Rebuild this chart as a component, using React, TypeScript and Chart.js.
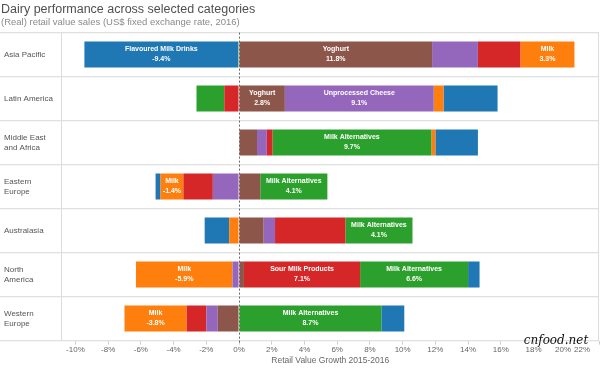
import React, { useEffect, useRef } from 'react';
import { Chart, registerables } from 'chart.js';

Chart.register(...registerables);

// ---------- data ----------
const regions: (string | string[])[] = [
  'Asia Pacific',
  'Latin America',
  ['Middle East', 'and Africa'],
  ['Eastern', 'Europe'],
  'Australasia',
  ['North', 'America'],
  ['Western', 'Europe'],
];

const seriesNames = [
  'Yoghurt',
  'Unprocessed Cheese',
  'Sour Milk Products',
  'Milk Alternatives',
  'Milk',
  'Flavoured Milk Drinks',
];

const yoghurt = [11.8, 2.8, 1.1, 1.3, 1.5, 0.3, -1.3];
const unprocessedCheese = [2.8, 9.1, 0.6, -1.6, 0.7, -0.4, -0.7];
const sourMilkProducts = [2.6, -0.9, 0.35, -1.8, 4.3, 7.1, -1.2];
const milkAlternatives = [-0.05, -1.7, 9.7, 4.1, 4.1, 6.6, 8.7];
const milk = [3.3, 0.6, 0.25, -1.4, -0.6, -5.9, -3.8];
const flavouredMilkDrinks = [-9.4, 3.3, 2.6, -0.3, -1.5, 0.7, 1.4];

// which segments carry a value label (1 = labelled)
const yoghurtLabels = [1, 1, 0, 0, 0, 0, 0];
const cheeseLabels = [0, 1, 0, 0, 0, 0, 0];
const sourLabels = [0, 0, 0, 0, 0, 1, 0];
const altLabels = [0, 0, 1, 1, 1, 1, 1];
const milkLabels = [1, 0, 0, 1, 0, 1, 1];
const flavouredLabels = [1, 0, 0, 0, 0, 0, 0];

const xTicks = [-10, -8, -6, -4, -2, 0, 2, 4, 6, 8, 10, 12, 14, 16, 18, 20, 22];

const titleText = 'Dairy performance across selected categories';
const subtitleText = '(Real) retail value sales (US$ fixed exchange rate, 2016)';
const xAxisTitle = 'Retail Value Growth 2015-2016';
const watermark = 'cnfood.net';

// ---------- styles ----------
const colors = ['#8c564b', '#9467bd', '#d62728', '#2ca02c', '#ff7f0e', '#1f77b4'];
const seriesValues = [yoghurt, unprocessedCheese, sourMilkProducts, milkAlternatives, milk, flavouredMilkDrinks];
const seriesLabelFlags = [yoghurtLabels, cheeseLabels, sourLabels, altLabels, milkLabels, flavouredLabels];

const FONT = '"Liberation Sans", Arial, sans-serif';

const decorPlugin = {
  id: 'decor',
  beforeDatasetsDraw(chart: any) {
    const { ctx, chartArea } = chart;
    const xs = chart.scales.x;
    const x0 = Math.round(xs.getPixelForValue(0)) + 0.5;
    ctx.save();
    ctx.strokeStyle = '#666';
    ctx.lineWidth = 1;
    ctx.setLineDash([2, 2]);
    ctx.beginPath();
    ctx.moveTo(x0, chartArea.top);
    ctx.lineTo(x0, chartArea.bottom + 4);
    ctx.stroke();
    ctx.restore();
  },
  afterDatasetsDraw(chart: any) {
    const { ctx } = chart;
    ctx.save();
    ctx.fillStyle = '#ffffff';
    ctx.font = `bold 7px ${FONT}`;
    ctx.textAlign = 'center';
    ctx.textBaseline = 'middle';
    chart.data.datasets.forEach((ds: any, di: number) => {
      const meta = chart.getDatasetMeta(di);
      const flags = seriesLabelFlags[di];
      meta.data.forEach((el: any, i: number) => {
        if (!flags[i]) return;
        const p = el.getProps(['x', 'y', 'base'], true);
        const cx = (p.x + p.base) / 2;
        const v = ds.data[i] as number;
        ctx.fillText(ds.label, cx, p.y - 6);
        ctx.fillText(v.toFixed(1) + '%', cx, p.y + 4);
      });
    });
    ctx.restore();
  },
  afterDraw(chart: any) {
    const { ctx, chartArea } = chart;
    const xs = chart.scales.x;
    ctx.save();
    // right border
    ctx.strokeStyle = '#dcdcdc';
    ctx.lineWidth = 1;
    ctx.beginPath();
    const rx = Math.round(chartArea.right) - 0.5;
    ctx.moveTo(rx, chartArea.top);
    ctx.lineTo(rx, chartArea.bottom);
    ctx.stroke();

    // title + subtitle
    ctx.textAlign = 'left';
    ctx.textBaseline = 'middle';
    ctx.fillStyle = '#4f4f4f';
    ctx.font = `12.5px ${FONT}`;
    ctx.fillText(titleText, 1, 10);
    ctx.fillStyle = '#8a8a8a';
    ctx.font = `9.5px ${FONT}`;
    ctx.fillText(subtitleText, 1, 22);

    // x tick labels (pushed inward near the right edge)
    ctx.font = `8px ${FONT}`;
    ctx.fillStyle = '#666666';
    ctx.textAlign = 'center';
    const items = xTicks.map((v) => {
      const text = v + '%';
      return { text, x: xs.getPixelForValue(v), w: ctx.measureText(text).width, cx: 0 };
    });
    let limit = chart.width - 10;
    for (let i = items.length - 1; i >= 0; i--) {
      const it = items[i];
      it.cx = Math.min(it.x, limit - it.w / 2);
      limit = it.cx - it.w / 2 - 3;
    }
    items.forEach((it) => ctx.fillText(it.text, it.cx, chartArea.bottom + 9));

    // watermark
    ctx.fillStyle = '#111';
    ctx.font = `italic 12px "DejaVu Serif", serif`;
    ctx.textAlign = 'center';
    ctx.fillText(watermark, 556, 341);
    ctx.restore();
  },
};

export default function App() {
  const ref = useRef<HTMLCanvasElement>(null);

  useEffect(() => {
    document.body.style.margin = '0';
    const canvas = ref.current;
    if (!canvas) return;
    const chart = new Chart(canvas, {
      type: 'bar',
      data: {
        labels: regions,
        datasets: seriesNames.map((name, i) => ({
          label: name,
          data: seriesValues[i],
          backgroundColor: colors[i],
          borderWidth: 0,
          categoryPercentage: 1,
          barPercentage: 0.59,
        })),
      },
      options: {
        indexAxis: 'y',
        responsive: false,
        animation: false,
        layout: { padding: { left: 4, right: 1, top: 32.6, bottom: 0 } },
        plugins: {
          legend: { display: false },
          tooltip: { enabled: false },
          title: { display: false },
        },
        scales: {
          x: {
            type: 'linear',
            stacked: true,
            min: -10.85,
            max: 22,
            afterBuildTicks: (scale: any) => {
              scale.ticks = xTicks.map((v) => ({ value: v }));
            },
            afterFit: (scale: any) => {
              scale.height = 28.4;
              scale.paddingLeft = 0;
              scale.paddingRight = 0;
            },
            ticks: { display: false },
            grid: {
              drawOnChartArea: false,
              drawTicks: true,
              tickLength: 4,
              color: '#cfcfcf',
            },
            border: { display: false },
            title: {
              display: true,
              text: xAxisTitle,
              color: '#666666',
              font: { family: FONT, size: 8.5 },
              padding: { top: 0, bottom: 3 },
            },
          },
          y: {
            type: 'category',
            stacked: true,
            afterFit: (scale: any) => {
              scale.width = 57.5;
            },
            ticks: {
              crossAlign: 'far',
              color: '#555555',
              font: { family: FONT, size: 8 },
              padding: 0,
            },
            grid: {
              offset: true,
              color: '#e0e0e0',
              lineWidth: 1.2,
              drawTicks: true,
              tickLength: 62,
            },
            border: { display: true, color: '#dcdcdc' },
          },
        },
      },
      plugins: [decorPlugin],
    } as any);
    return () => chart.destroy();
  }, []);

  return (
    <div style={{ width: 600, height: 369 }}>
      <canvas ref={ref} width={600} height={369} style={{ display: 'block' }} />
    </div>
  );
}
